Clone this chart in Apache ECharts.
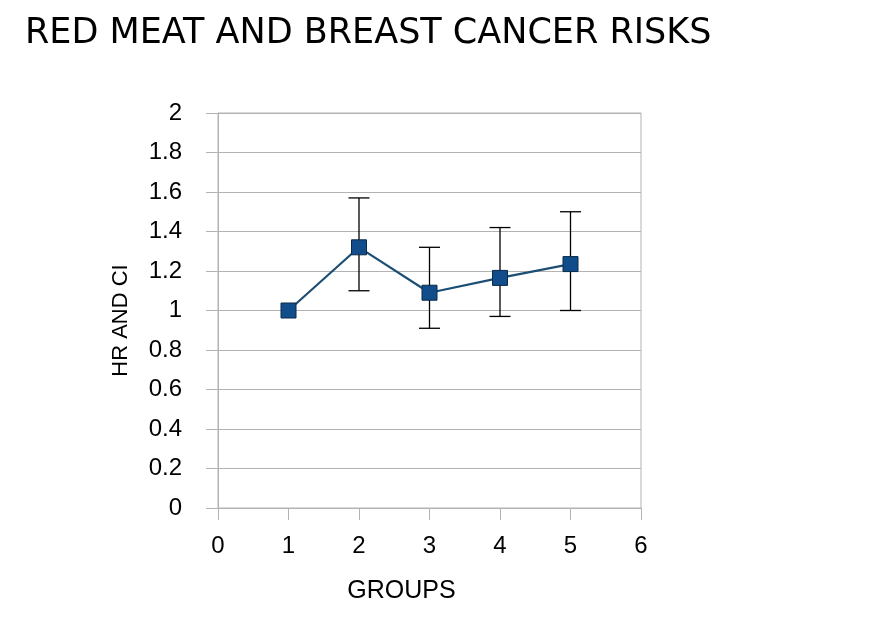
<!DOCTYPE html>
<html>
<head>
<meta charset="utf-8">
<script src="https://cdn.jsdelivr.net/npm/echarts@6/dist/echarts.min.js"></script>
<style>html,body{margin:0;padding:0;background:#fff;}#c{width:892px;height:624px;}</style>
</head>
<body>
<div id="c"></div>
<script>
const groups = [1, 2, 3, 4, 5];
const hr = [1.00, 1.32, 1.09, 1.165, 1.235];
const ciLow = [null, 1.10, 0.91, 0.97, 1.00];
const ciHigh = [null, 1.57, 1.32, 1.42, 1.50];
const yTicks = [0, 0.2, 0.4, 0.6, 0.8, 1, 1.2, 1.4, 1.6, 1.8, 2];

const lineData = groups.map((g, i) => [g, hr[i]]);
const errData = groups.map((g, i) => [g, ciLow[i], ciHigh[i]]).filter(d => d[1] !== null);

const chart = echarts.init(document.getElementById('c'));
const font = '"Liberation Sans", Arial, sans-serif';
chart.setOption({
  animation: false,
  backgroundColor: '#fff',
  title: {
    text: 'RED MEAT AND BREAST CANCER RISKS',
    left: 20, top: 11,
    textStyle: {fontFamily: '"DejaVu Sans", sans-serif', fontSize: 35, fontWeight: 'normal', color: '#000'}
  },
  grid: {left: 218, right: 251, top: 113, bottom: 116, show: true, borderColor: '#b3b3b3', borderWidth: 1},
  xAxis: {
    type: 'value', min: 0, max: 6, interval: 1,
    name: 'GROUPS', nameLocation: 'middle', nameGap: 71,
    nameTextStyle: {fontFamily: font, fontSize: 25, color: '#000', padding: [0, 56, 0, 0]},
    axisLine: {show: true, lineStyle: {color: '#b3b3b3'}},
    axisTick: {show: true, length: 12, inside: false, lineStyle: {color: '#b3b3b3'}},
    axisLabel: {fontFamily: font, fontSize: 24, color: '#000', margin: 26},
    splitLine: {show: false}
  },
  yAxis: {
    type: 'value', min: 0, max: 2, interval: 0.2,
    name: 'HR AND CI', nameLocation: 'middle', nameGap: 86, nameRotate: 90,
    nameTextStyle: {fontFamily: font, fontSize: 22, color: '#000', padding: [0, 20, 0, 0]},
    axisLine: {show: true, lineStyle: {color: '#b3b3b3'}},
    axisTick: {show: true, length: 12, lineStyle: {color: '#b3b3b3'}},
    axisLabel: {fontFamily: font, fontSize: 24, color: '#000', margin: 36,
      formatter: v => { const t = yTicks.find(x => Math.abs(x - v) < 1e-6); return t === undefined ? '' : String(t); }},
    splitLine: {show: true, lineStyle: {color: '#b3b3b3', width: 1}}
  },
  series: [
    {
      type: 'custom',
      data: errData,
      z: 3,
      renderItem: function (params, api) {
        const x = api.value(0);
        const lo = api.coord([x, api.value(1)]);
        const hi = api.coord([x, api.value(2)]);
        const hw = 10.5;
        const st = {stroke: '#000', lineWidth: 1.3};
        return {
          type: 'group',
          children: [
            {type: 'line', shape: {x1: lo[0], y1: lo[1], x2: hi[0], y2: hi[1]}, style: st},
            {type: 'line', shape: {x1: lo[0] - hw, y1: lo[1], x2: lo[0] + hw, y2: lo[1]}, style: st},
            {type: 'line', shape: {x1: hi[0] - hw, y1: hi[1], x2: hi[0] + hw, y2: hi[1]}, style: st}
          ]
        };
      }
    },
    {
      type: 'line',
      data: lineData,
      z: 5,
      symbol: 'rect',
      symbolSize: 15,
      lineStyle: {color: '#1c4e74', width: 2.2},
      itemStyle: {color: '#114d8a', borderColor: '#0a2a4a', borderWidth: 1}
    }
  ]
});
</script>
</body>
</html>
